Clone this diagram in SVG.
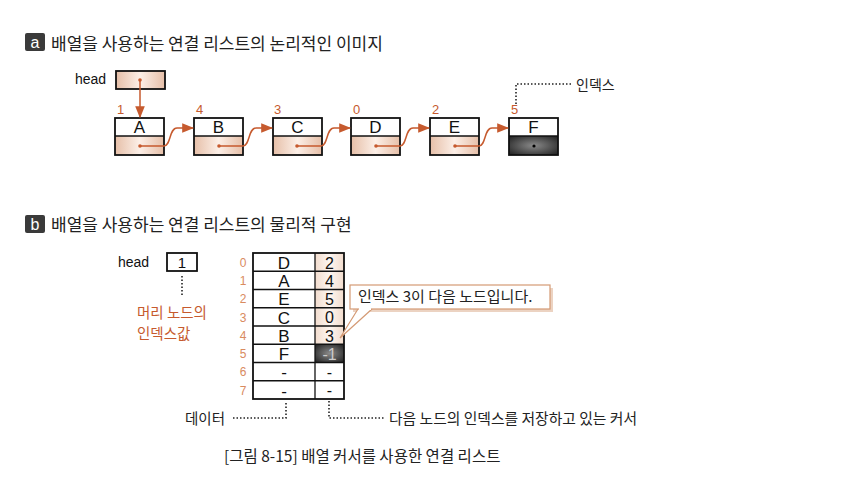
<svg xmlns="http://www.w3.org/2000/svg" width="856" height="488" viewBox="0 0 856 488">
<defs>
<linearGradient id="tan" x1="0" y1="0" x2="1" y2="0">
<stop offset="0" stop-color="#e6bfa8"/><stop offset="0.5" stop-color="#fcefe7"/><stop offset="1" stop-color="#e6bfa8"/>
</linearGradient>
<linearGradient id="tan2" x1="0" y1="0" x2="1" y2="0">
<stop offset="0" stop-color="#f2dccd"/><stop offset="0.5" stop-color="#fdf6f1"/><stop offset="1" stop-color="#f2dccd"/>
</linearGradient>
<radialGradient id="dark" cx="0.5" cy="0.5" r="0.7">
<stop offset="0" stop-color="#8a8a8a"/><stop offset="1" stop-color="#1e1e1e"/>
</radialGradient>
<marker id="ah2" viewBox="0 0 10 10" refX="9" refY="5" markerWidth="12" markerHeight="12" orient="auto" markerUnits="userSpaceOnUse">
<path d="M0,1 L10,5 L0,9 z" fill="#c65a2e"/>
</marker>
</defs>
<style>
.kr{font-family:"Noto Sans CJK KR","Noto Sans",sans-serif;fill:#222}
.lat{font-family:"Liberation Sans",Arial,sans-serif;fill:#111}
.box{stroke:#111;stroke-width:1.8}
.lnk{fill:none;stroke:#c65a2e;stroke-width:1.5}
.dot{fill:none;stroke:#222;stroke-width:1.6;stroke-dasharray:1.5 2}
.cell{fill:none;stroke:#111;stroke-width:1.3}
</style>
<rect width="856" height="488" fill="#fff"/>

<g id="title-a">
<rect x="25" y="33" width="20" height="18" rx="2" fill="#3a3a3a"/>
<text x="35" y="47.5" class="lat" font-size="16" style="fill:#fff" text-anchor="middle">a</text>
<text x="51" y="50" class="kr" font-size="17">배열을 사용하는 연결 리스트의 논리적인 이미지</text>
</g>

<g id="head-a">
<text x="75" y="84" class="lat" font-size="14">head</text>
<rect x="116" y="71" width="49" height="18" fill="url(#tan)" class="box"/>
<circle cx="140" cy="80" r="1.8" fill="#c65a2e"/>
</g>

<g id="nodes-a">
<g id="nA"><text x="117" y="114" class="lat" font-size="13" style="fill:#c65a2e">1</text><rect x="115" y="136" width="49" height="19" fill="url(#tan)"/><rect x="115" y="118" width="49" height="37" fill="none" class="box"/><line x1="115" y1="136" x2="164" y2="136" stroke="#111" stroke-width="1.3"/><text x="139.5" y="133" class="lat" font-size="17" text-anchor="middle">A</text><circle cx="140" cy="146" r="1.8" fill="#c65a2e"/></g>
<g id="nB"><text x="196" y="114" class="lat" font-size="13" style="fill:#c65a2e">4</text><rect x="194" y="136" width="49" height="19" fill="url(#tan)"/><rect x="194" y="118" width="49" height="37" fill="none" class="box"/><line x1="194" y1="136" x2="243" y2="136" stroke="#111" stroke-width="1.3"/><text x="218.5" y="133" class="lat" font-size="17" text-anchor="middle">B</text><circle cx="219" cy="146" r="1.8" fill="#c65a2e"/></g>
<g id="nC"><text x="274" y="114" class="lat" font-size="13" style="fill:#c65a2e">3</text><rect x="273" y="136" width="49" height="19" fill="url(#tan)"/><rect x="273" y="118" width="49" height="37" fill="none" class="box"/><line x1="273" y1="136" x2="322" y2="136" stroke="#111" stroke-width="1.3"/><text x="297.5" y="133" class="lat" font-size="17" text-anchor="middle">C</text><circle cx="297" cy="146" r="1.8" fill="#c65a2e"/></g>
<g id="nD"><text x="353" y="114" class="lat" font-size="13" style="fill:#c65a2e">0</text><rect x="351" y="136" width="49" height="19" fill="url(#tan)"/><rect x="351" y="118" width="49" height="37" fill="none" class="box"/><line x1="351" y1="136" x2="400" y2="136" stroke="#111" stroke-width="1.3"/><text x="375.5" y="133" class="lat" font-size="17" text-anchor="middle">D</text><circle cx="376" cy="146" r="1.8" fill="#c65a2e"/></g>
<g id="nE"><text x="432" y="114" class="lat" font-size="13" style="fill:#c65a2e">2</text><rect x="430" y="136" width="49" height="19" fill="url(#tan)"/><rect x="430" y="118" width="49" height="37" fill="none" class="box"/><line x1="430" y1="136" x2="479" y2="136" stroke="#111" stroke-width="1.3"/><text x="454.5" y="133" class="lat" font-size="17" text-anchor="middle">E</text><circle cx="455" cy="146" r="1.8" fill="#c65a2e"/></g>
<g id="nF"><text x="511" y="114" class="lat" font-size="13" style="fill:#c65a2e">5</text><rect x="509" y="136" width="49" height="19" fill="url(#dark)"/><rect x="509" y="118" width="49" height="37" fill="none" class="box"/><line x1="509" y1="136" x2="558" y2="136" stroke="#111" stroke-width="1.3"/><text x="533.5" y="133" class="lat" font-size="17" text-anchor="middle">F</text><circle cx="534" cy="146" r="1.6" fill="#000"/></g>
</g>

<g id="index-label">
<polyline points="516,104 516,84 573,84" class="dot"/>
<text x="576" y="90" class="kr" font-size="14">인덱스</text>
</g>

<g id="connectors-a">
<line x1="140" y1="80" x2="140" y2="117" class="lnk" marker-end="url(#ah2)"/>
<path d="M140,146 H164 C171,146 169,128 177,128 H193" class="lnk" marker-end="url(#ah2)"/>
<path d="M219,146 H243 C250,146 248,128 256,128 H272" class="lnk" marker-end="url(#ah2)"/>
<path d="M297,146 H321 C328,146 326,128 334,128 H350" class="lnk" marker-end="url(#ah2)"/>
<path d="M376,146 H400 C407,146 405,128 413,128 H429" class="lnk" marker-end="url(#ah2)"/>
<path d="M455,146 H479 C486,146 484,128 492,128 H508" class="lnk" marker-end="url(#ah2)"/>
</g>

<g id="title-b">
<rect x="25" y="215" width="20" height="18" rx="2" fill="#3a3a3a"/>
<text x="35" y="229.5" class="lat" font-size="16" style="fill:#fff" text-anchor="middle">b</text>
<text x="51" y="231" class="kr" font-size="17">배열을 사용하는 연결 리스트의 물리적 구현</text>
</g>

<g id="head-b">
<text x="118" y="267" class="lat" font-size="14">head</text>
<rect x="167" y="253" width="30" height="18" fill="#fff" class="box"/>
<text x="182" y="268" class="lat" font-size="15" text-anchor="middle">1</text>
<line x1="182" y1="276" x2="182" y2="297" class="dot"/>
<text x="137" y="318" class="kr" font-size="14.5" style="fill:#c65a2e">머리 노드의</text>
<text x="137" y="339" class="kr" font-size="14.5" style="fill:#c65a2e">인덱스값</text>
</g>

<g id="table">
<rect x="315" y="253" width="29" height="91.25" fill="url(#tan2)"/>
<rect x="315" y="344.25" width="29" height="18.25" fill="url(#dark)"/>
<rect x="253" y="253" width="91" height="146" fill="none" stroke="#111" stroke-width="1.8"/>
<line x1="315" y1="253" x2="315" y2="399" class="cell"/>
<g class="cell">
<line x1="253" y1="271.25" x2="344" y2="271.25"/><line x1="253" y1="289.5" x2="344" y2="289.5"/><line x1="253" y1="307.75" x2="344" y2="307.75"/><line x1="253" y1="326" x2="344" y2="326"/><line x1="253" y1="344.25" x2="344" y2="344.25"/><line x1="253" y1="362.5" x2="344" y2="362.5"/><line x1="253" y1="380.75" x2="344" y2="380.75"/>
</g>
<g class="lat" font-size="12" style="fill:#d98b5f" text-anchor="middle">
<text x="243" y="267">0</text><text x="243" y="285">1</text><text x="243" y="303">2</text><text x="243" y="322">3</text><text x="243" y="340">4</text><text x="243" y="358">5</text><text x="243" y="376">6</text><text x="243" y="395">7</text>
</g>
<g class="lat" font-size="17" text-anchor="middle">
<text x="284" y="269">D</text><text x="284" y="287">A</text><text x="284" y="305">E</text><text x="284" y="324">C</text><text x="284" y="342">B</text><text x="284" y="360">F</text><text x="284" y="378">-</text><text x="284" y="397">-</text>
</g>
<g class="lat" font-size="16" text-anchor="middle">
<text x="329.5" y="268.5">2</text><text x="329.5" y="286.5">4</text><text x="329.5" y="305">5</text><text x="329.5" y="323">0</text><text x="329.5" y="341.5">3</text><text x="329.5" y="359.5" style="fill:#ccc">-1</text><text x="329.5" y="377.5">-</text><text x="329.5" y="396">-</text>
</g>
</g>

<g id="callout">
<rect x="353" y="288" width="200" height="24" fill="#ecd3c2"/>
<path d="M358,309 L340,338 L372,309" fill="#fff" stroke="#d49a74" stroke-width="1.2"/>
<rect x="350" y="285" width="200" height="24" fill="#fff" stroke="#d49a74" stroke-width="1.2"/>
<line x1="359" y1="309" x2="371" y2="309" stroke="#fff" stroke-width="2"/>
<text x="358" y="302" class="kr" font-size="15">인덱스 3이 다음 노드입니다.</text>
</g>

<g id="bottom-labels">
<text x="185" y="424" class="kr" font-size="14.5">데이터</text>
<polyline points="233,418 286,418 286,401" class="dot"/>
<polyline points="329,401 329,418 385,418" class="dot"/>
<text x="389" y="424" class="kr" font-size="14.8">다음 노드의 인덱스를 저장하고 있는 커서</text>
</g>

<g id="caption">
<text x="224" y="462" class="kr" font-size="15.5">[그림 8-15] 배열 커서를 사용한 연결 리스트</text>
</g>
</svg>
